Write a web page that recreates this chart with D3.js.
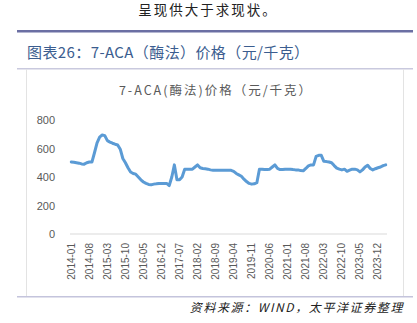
<!DOCTYPE html>
<html>
<head>
<meta charset="utf-8">
<script src="https://cdn.jsdelivr.net/npm/d3@7"></script>
<style>
  html, body { margin: 0; padding: 0; background: #fff; }
  svg { display: block; }
</style>
</head>
<body>
<svg id="chart" width="417" height="323"></svg>
<script>
// Monthly 7-ACA (enzymatic) price, yuan/kg, 2014-01 .. 2024-03
const months = [];
for (let y = 2014; y <= 2024; y++) {
  for (let m = 1; m <= 12; m++) {
    if (y === 2024 && m > 3) break;
    months.push(y + "-" + String(m).padStart(2, "0"));
  }
}
const prices = [
  505, 503, 500, 497, 492, 490, 500, 505, 505, 570, 640, 680,   // 2014
  695, 690, 655, 645, 637, 630, 625, 595, 530, 500, 465, 435,   // 2015
  425, 420, 400, 380, 365, 355, 348, 345, 350, 352, 355, 355,   // 2016
  355, 355, 340, 400, 485, 380, 380, 400, 455, 455, 455, 455,   // 2017
  470, 485, 465, 460, 458, 455, 450, 448, 448, 448, 448, 448,   // 2018
  448, 448, 447, 440, 425, 415, 405, 385, 368, 355, 350, 352,   // 2019
  360, 455, 455, 452, 452, 455, 470, 485, 460, 452, 452, 455,   // 2020
  455, 455, 452, 450, 450, 445, 443, 460, 478, 485, 485, 545,   // 2021
  552, 552, 510, 508, 505, 500, 480, 462, 455, 450, 455, 440,   // 2022
  448, 455, 455, 450, 436, 450, 470, 482, 460, 450, 458, 465,   // 2023
  470, 480, 485                                                   // 2024
];
const yTicks = [0, 200, 400, 600, 800];
// every 7th month carries a label
const xTickLabels = months.filter((d, i) => i % 7 === 0);

const svg = d3.select("#chart");
const grey = "#595959";

// page header text
svg.append("text")
  .attr("x", 208).attr("y", 15)
  .attr("text-anchor", "middle")
  .style("font-family", "'Noto Sans CJK SC', sans-serif")
  .style("font-size", "13.5px")
  .style("letter-spacing", "2px")
  .attr("fill", "#222")
  .text("呈现供大于求现状。");

// figure frame
svg.append("rect").attr("x", 17).attr("y", 30).attr("width", 396).attr("height", 2.5).attr("fill", "#6b6fa3");
svg.append("text")
  .attr("x", 27).attr("y", 58)
  .style("font-family", "'Noto Sans CJK SC', sans-serif")
  .style("font-size", "15px")
  .style("letter-spacing", "0.4px")
  .attr("fill", "#3b5d8f")
  .text("图表26：7-ACA（酶法）价格（元/千克）");
svg.append("rect").attr("x", 17).attr("y", 68).attr("width", 396).attr("height", 1.5).attr("fill", "#c9c9de");
svg.append("rect").attr("x", 26).attr("y", 69).attr("width", 1).attr("height", 227).attr("fill", "#e3e3e3");
svg.append("rect").attr("x", 403).attr("y", 69).attr("width", 1).attr("height", 227).attr("fill", "#e3e3e3");
svg.append("rect").attr("x", 17).attr("y", 296).attr("width", 396).attr("height", 1.5).attr("fill", "#c4c4dc");

svg.append("text")
  .attr("x", 404).attr("y", 312)
  .attr("text-anchor", "end")
  .style("font-family", "'Noto Sans CJK SC', sans-serif")
  .style("font-size", "12px")
  .style("font-style", "italic")
  .style("letter-spacing", "1.6px")
  .attr("fill", "#222")
  .text("资料来源：WIND，太平洋证券整理");

// chart title
svg.append("text")
  .attr("x", 216).attr("y", 95)
  .attr("text-anchor", "middle")
  .style("font-family", "'Noto Sans CJK SC', sans-serif")
  .style("font-size", "12.5px")
  .style("letter-spacing", "2px")
  .attr("fill", grey)
  .text("7-ACA(酶法)价格（元/千克）");

// scales
const x = d3.scaleBand().domain(months).range([70, 387]);
const y = d3.scaleLinear().domain([0, 800]).range([234, 120]);

// y axis labels, no axis line
const yAxis = svg.append("g")
  .attr("transform", "translate(58,0)")
  .call(d3.axisLeft(y).tickValues(yTicks).tickSize(0).tickPadding(3));
yAxis.select(".domain").remove();
yAxis.selectAll("text")
  .style("font-family", "'Liberation Sans', Arial, sans-serif")
  .style("font-size", "11px")
  .attr("fill", grey);

// baseline
svg.append("line")
  .attr("x1", 70).attr("x2", 387)
  .attr("y1", y(0)).attr("y2", y(0))
  .attr("stroke", "#d9d9d9").attr("stroke-width", 1);

// x axis labels, rotated
const xAxis = svg.append("g")
  .attr("transform", `translate(0,${y(0)})`)
  .call(d3.axisBottom(x).tickValues(xTickLabels).tickSize(0));
xAxis.select(".domain").remove();
xAxis.selectAll("text")
  .attr("transform", "rotate(-90)")
  .attr("x", -9).attr("y", 0).attr("dy", "0.35em")
  .attr("text-anchor", "end")
  .style("font-family", "'Liberation Sans', Arial, sans-serif")
  .style("font-size", "10px")
  .attr("fill", grey);

// price line
const line = d3.line()
  .x((d, i) => x(months[i]) + x.bandwidth() / 2)
  .y(d => y(d))
  .curve(d3.curveLinear);
svg.append("path")
  .datum(prices)
  .attr("d", line)
  .attr("fill", "none")
  .attr("stroke", "#5b9bd5")
  .attr("stroke-width", 3)
  .attr("stroke-linejoin", "round")
  .attr("stroke-linecap", "round");
</script>
</body>
</html>
